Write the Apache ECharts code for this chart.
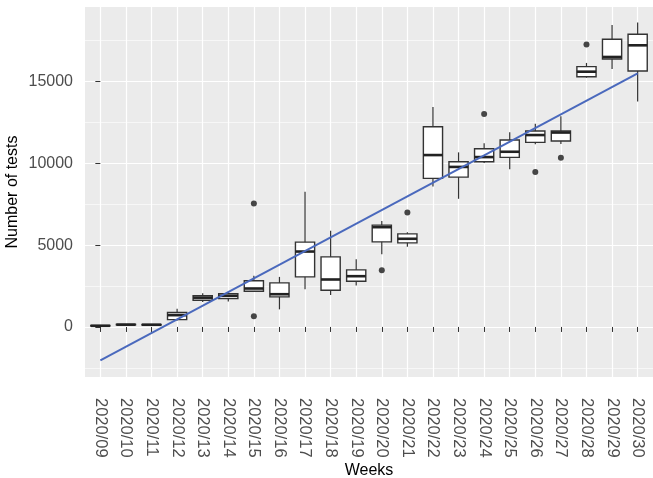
<!DOCTYPE html>
<html>
<head>
<meta charset="utf-8">
<script src="https://cdn.jsdelivr.net/npm/echarts@6/dist/echarts.min.js"></script>
<style>
html,body{margin:0;padding:0;background:#fff;}
#chart{width:653px;height:478px;}
</style>
</head>
<body>
<div id="chart"></div>
<script>
// ---- data ----
var weeks = ['2020/09','2020/10','2020/11','2020/12','2020/13','2020/14','2020/15','2020/16','2020/17','2020/18','2020/19','2020/20','2020/21','2020/22','2020/23','2020/24','2020/25','2020/26','2020/27','2020/28','2020/29','2020/30'];
var whiskerLow  = [40, 110, 100, 400, 1520, 1550, 2130, 1075, 2300, 1960, 2540, 4440, 4896, 8590, 7835, 10020, 9640, 11163, 11181, 15239, 15771, 13790];
var q1          = [60, 130, 120, 450, 1630, 1730, 2185, 1836, 3060, 2246, 2797, 5202, 5141, 9082, 9160, 10098, 10367, 11285, 11365, 15300, 16383, 15649];
var medians     = [70, 140, 135, 720, 1790, 1900, 2350, 2001, 4610, 2901, 3103, 6100, 5390, 10508, 9783, 10385, 10710, 11732, 11885, 15606, 16505, 17218];
var q3          = [90, 160, 150, 880, 1910, 2030, 2820, 2693, 5184, 4284, 3490, 6224, 5690, 12240, 10098, 10894, 11426, 11977, 11977, 15912, 17589, 17895];
var whiskerHigh = [110, 180, 170, 1120, 2060, 2110, 3130, 3060, 8262, 5875, 4143, 6478, 5795, 13445, 10673, 11224, 11897, 12425, 12880, 16140, 18464, 18605];
var outlierWeek  = ['2020/15','2020/15','2020/20','2020/21','2020/24','2020/26','2020/27','2020/28'];
var outlierValue = [655, 7552, 3470, 7001, 13017, 9476, 10343, 17260];
var trendWeek  = ['2020/09','2020/30'];
var trendValue = [-2050, 15500];
var yTicks      = [0, 5000, 10000, 15000];
var yMinorTicks = [-2500, 2500, 7500, 12500, 17500];

// ---- build series data ----
var boxData = weeks.map(function (w, i) {
  return [i, whiskerLow[i], q1[i], medians[i], q3[i], whiskerHigh[i]];
});
var outlierData = outlierWeek.map(function (w, i) { return [weeks.indexOf(w), outlierValue[i]]; });
var trendData = trendWeek.map(function (w, i) { return [weeks.indexOf(w), trendValue[i]]; });
var xIdx = weeks.map(function (w, i) { return i; });

var chart = echarts.init(document.getElementById('chart'), null, {renderer: 'canvas'});
var font = '"Liberation Sans", Arial, Helvetica, sans-serif';

chart.setOption({
  animation: false,
  backgroundColor: '#ffffff',
  grid: {
    left: 85, right: 0, top: 7, bottom: 101,
    outerBoundsMode: 'none',
    containLabel: false,
    show: true, backgroundColor: '#EBEBEB', borderWidth: 0
  },
  xAxis: {
    type: 'value',
    min: -0.6, max: 21.6,
    name: 'Weeks',
    nameLocation: 'middle',
    nameGap: 86,
    nameMoveOverlap: false,
    nameTextStyle: {color: '#000', fontSize: 16, fontFamily: font},
    axisLine: {show: false},
    axisTick: {show: true, length: 5, customValues: xIdx, lineStyle: {color: '#333333', width: 1}},
    axisLabel: {
      customValues: xIdx,
      rotate: -90,
      margin: 21,
      color: '#4D4D4D',
      fontSize: 16.5,
      fontFamily: font,
      formatter: function (v) { return weeks[Math.round(v)]; }
    },
    splitLine: {show: true, lineStyle: {color: '#ffffff', width: 1.2}}
  },
  yAxis: [{
    type: 'value',
    min: -3060, max: 19560,
    name: 'Number of tests',
    nameLocation: 'middle',
    nameGap: 64,
    nameRotate: 90,
    nameMoveOverlap: false,
    nameTextStyle: {color: '#000', fontSize: 16, fontFamily: font},
    axisLine: {show: false},
    axisTick: {show: true, length: 5, customValues: yTicks, lineStyle: {color: '#333333', width: 1}},
    axisLabel: {customValues: yTicks, margin: 12, color: '#4D4D4D', fontSize: 16, fontFamily: font,
      formatter: function (v) { return String(v); }},
    splitLine: {show: true, lineStyle: {color: '#ffffff', width: 1.2}}
  }, {
    type: 'value',
    position: 'left',
    min: -3060, max: 19560,
    axisLine: {show: false},
    axisTick: {show: false, customValues: yMinorTicks},
    axisLabel: {show: false, customValues: yMinorTicks},
    splitLine: {show: true, lineStyle: {color: '#ffffff', width: 0.6}}
  }],
  series: [{
    type: 'custom',
    name: 'box',
    z: 2,
    data: boxData,
    encode: {x: 0, y: [1, 2, 3, 4, 5]},
    renderItem: function (params, api) {
      var x = api.value(0);
      var lo = api.coord([x, api.value(1)]);
      var b1 = api.coord([x, api.value(2)]);
      var md = api.coord([x, api.value(3)]);
      var b3 = api.coord([x, api.value(4)]);
      var hi = api.coord([x, api.value(5)]);
      var w = api.size([0.75, 0])[0];
      var half = w / 2;
      return {
        type: 'group',
        children: [
          {type: 'line', shape: {x1: lo[0], y1: lo[1], x2: hi[0], y2: hi[1]}, style: {stroke: '#333333', lineWidth: 1.2}},
          {type: 'rect', shape: {x: b3[0] - half, y: b3[1], width: w, height: Math.max(b1[1] - b3[1], 0.5)}, style: {fill: '#ffffff', stroke: '#333333', lineWidth: 1.4}},
          {type: 'line', shape: {x1: md[0] - half, y1: md[1], x2: md[0] + half, y2: md[1]}, style: {stroke: '#222222', lineWidth: 2.6}}
        ]
      };
    }
  }, {
    type: 'scatter',
    name: 'outliers',
    z: 3,
    data: outlierData,
    symbol: 'circle',
    symbolSize: 6,
    itemStyle: {color: '#1A1A1A'}
  }, {
    type: 'line',
    name: 'trend',
    z: 4,
    data: trendData,
    showSymbol: false,
    symbol: 'none',
    lineStyle: {color: '#4A69BD', width: 2}
  }]
});
</script>
</body>
</html>
